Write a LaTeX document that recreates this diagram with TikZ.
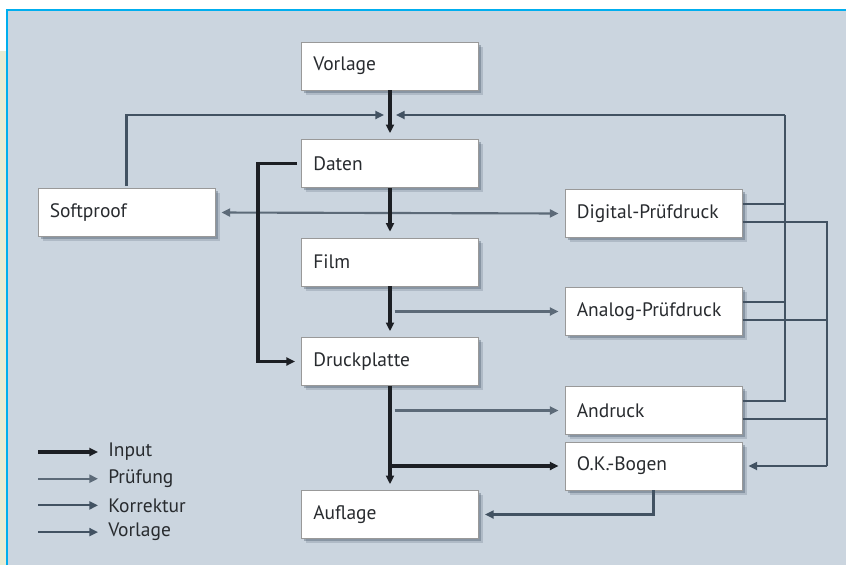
\documentclass[tikz,border=0pt]{standalone}
\usepackage{fontspec}
\setmainfont{PT Sans}
\usepackage{tikz}
\usetikzlibrary{calc, arrows.meta, shadows, positioning}
\definecolor{bggray}{RGB}{203,213,223}
\definecolor{framecyan}{RGB}{0,174,239}
\definecolor{stripyellow}{RGB}{232,236,212}
\definecolor{ink}{RGB}{28,31,36}
\definecolor{pruefgray}{RGB}{92,106,120}
\definecolor{korrgray}{RGB}{66,82,98}
\definecolor{textgray}{RGB}{40,43,47}
\tikzstyle{block} = [draw=gray!80, fill=white, rectangle, line width=0.5pt,
    minimum height=36pt, text width=115pt, inner xsep=9pt, align=left,
    text=textgray, font=\fontsize{14.6}{16}\selectfont,
    drop shadow={shadow xshift=3.5pt, shadow yshift=-3.5pt, opacity=0.2, fill=korrgray},
    drop shadow={shadow xshift=2pt, shadow yshift=-2pt, opacity=0.35, fill=korrgray}]
\tikzstyle{tip} = [shorten >=4.5pt, -{Triangle[length=6.5pt, width=6pt]}]
\tikzstyle{input} = [draw=ink, line width=2.3pt, tip]
\tikzstyle{pruef} = [draw=pruefgray, line width=1.6pt, tip]
\tikzstyle{korr} = [draw=korrgray, line width=1.6pt, tip]
\tikzstyle{korrline} = [draw=korrgray, line width=1.6pt]
\tikzstyle{legtext} = [anchor=west, inner xsep=3pt, text=textgray,
    font=\fontsize{14.6}{16}\selectfont]

\begin{document}
\begin{tikzpicture}[x=0.75pt, y=-0.75pt]
    % frame and background
    \useasboundingbox (0,0) rectangle (846,565);
    \fill[white] (0,0) rectangle (846,565);
    \fill[stripyellow] (0,51) rectangle (7,565);
    \fill[bggray] (7,10) rectangle (846,565);
    \draw[framecyan, line width=1.6pt] (7,565) -- (7,10) -- (846,10);

    % main chain
    \node[block, name=vorlage] at (390, 66) {Vorlage};
    \node[block, name=daten] at (390, 163.5) {Daten};
    \node[block, name=film] at (390, 262) {Film};
    \node[block, name=druck] at (390, 361.5) {Druckplatte};
    \node[block, name=auflage] at (390, 514.5) {Auflage};

    % proofs
    \node[block, name=softproof] at (126.5, 212.5) {Softproof};
    \node[block, name=digital] at (653.5, 213.5) {Digital-Prüfdruck};
    \node[block, name=analog] at (653.5, 311.5) {Analog-Prüfdruck};
    \node[block, name=andruck] at (653.5, 410.5) {Andruck};
    \node[block, name=okbogen] at (653.5, 466) {O.K.-Bogen};

    \coordinate (knot) at (390, 115);
    \coordinate (kbus) at (785, 115);
    \coordinate (vbus) at (827, 466);

    % corrections back to the top
    \foreach \b in {digital, analog, andruck}
        \draw[korrline] ($(\b.east)+(0,-9.5)$) -| (kbus);
    \draw[korr] (kbus) -- (knot);
    \draw[korr, shorten <=2pt] (softproof.north) |- (knot);

    % proofs to O.K.-Bogen
    \foreach \b in {digital, analog, andruck}
        \draw[korrline] ($(\b.east)+(0,8.5)$) -| (vbus);
    \draw[korr] (vbus) -- (okbogen.east);
    \draw[korr] (okbogen.south) |- (auflage.east);

    % proof branches
    \draw[pruef, shorten <=4.5pt, {Triangle[length=6.5pt, width=6pt]}-{Triangle[length=6.5pt, width=6pt]}]
        (digital.west) -- (softproof.east);
    \draw[pruef, shorten <=3.5pt] (film.south |- analog.west) -- (analog.west);
    \draw[pruef, shorten <=3.5pt] (druck.south |- andruck.west) -- (andruck.west);

    % input
    \draw[input] (vorlage) -- (daten);
    \draw[input] (daten) -- (film);
    \draw[input] (film) -- (druck);
    \draw[input] (druck) -- (auflage);
    \draw[input, shorten <=3pt] (daten.west) -- ++(-43,0) |- (druck.west);
    \draw[input] (druck.south |- okbogen.west) -- (okbogen.west);

    % legend
    \foreach \s/\t [count=\i] in {input/Input, pruef/Prüfung, korr/Korrektur, korr/Vorlage} {
        \node[legtext, name=leg\i] at (104, 452+26.7*\i-26.7) {\t};
        \draw[\s, shorten >=4.5pt] ($(leg\i.west)+(-66,0)$) -- (leg\i.west);
    }
\end{tikzpicture}
\end{document}
